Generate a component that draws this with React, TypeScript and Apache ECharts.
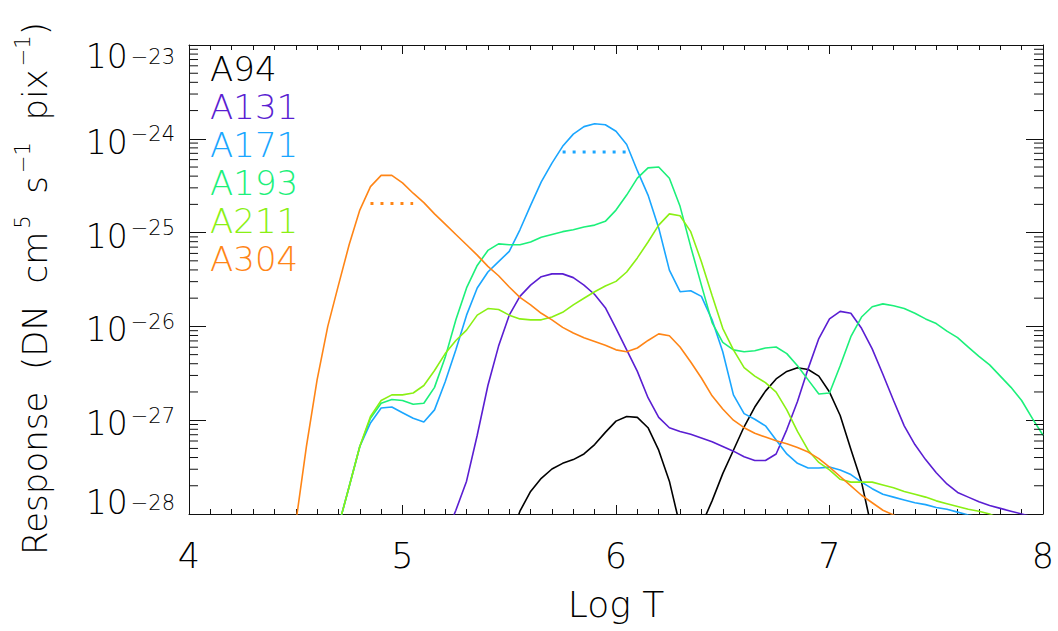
import React, { useEffect, useRef } from "react";
import * as echarts from "echarts";

// Log T grid (x values)
const LOG_T = [
  4.50, 4.55, 4.60, 4.65, 4.70, 4.75, 4.80, 4.85, 4.90, 4.95,
  5.00, 5.05, 5.10, 5.15, 5.20, 5.25, 5.30, 5.35, 5.40, 5.45,
  5.50, 5.55, 5.60, 5.65, 5.70, 5.75, 5.80, 5.85, 5.90, 5.95,
  6.00, 6.05, 6.10, 6.15, 6.20, 6.25, 6.30, 6.35, 6.40, 6.45,
  6.50, 6.55, 6.60, 6.65, 6.70, 6.75, 6.80, 6.85, 6.90, 6.95,
  7.00, 7.05, 7.10, 7.15, 7.20, 7.25, 7.30, 7.35, 7.40, 7.45,
  7.50, 7.55, 7.60, 7.65, 7.70, 7.75, 7.80, 7.85, 7.90, 7.95,
  8.00,
];

// log10 of response (DN cm^5 s^-1 pix^-1), aligned with LOG_T
const A94 = [
  null, null, null, null, null, null, null, null, null, null,
  null, null, null, null, null, null, null, null, null, null,
  -28.30, -27.97, -27.76, -27.62, -27.52, -27.46, -27.42, -27.36, -27.26, -27.13,
  -27.01, -26.96, -26.97, -27.08, -27.32, -27.65, -28.13, -28.60, -28.12, -27.86,
  -27.57, -27.32, -27.07, -26.86, -26.69, -26.56, -26.48, -26.44, -26.46, -26.53,
  -26.70, -26.95, -27.31, -27.66, -28.18, null, null, null, null, null,
  null, null, null, null, null, null, null, null, null, null,
  null,
];
const A131 = [
  null, null, null, null, null, null, null, null, null, null,
  null, null, null, null, -28.24, -27.96, -27.65, -27.16, -26.63, -26.21,
  -25.88, -25.68, -25.56, -25.47, -25.44, -25.44, -25.48, -25.56, -25.66, -25.80,
  -26.02, -26.25, -26.48, -26.76, -26.97, -27.08, -27.12, -27.15, -27.19, -27.23,
  -27.28, -27.33, -27.39, -27.43, -27.43, -27.36, -27.10, -26.80, -26.45, -26.13,
  -25.92, -25.84, -25.86, -26.02, -26.24, -26.51, -26.79, -27.06, -27.26, -27.42,
  -27.56, -27.68, -27.77, -27.82, -27.87, -27.91, -27.94, -27.97, -28.00, -28.03,
  null,
];
const A171 = [
  null, null, null, null, -28.13, -27.71, -27.28, -27.03, -26.87, -26.86,
  -26.92, -26.98, -27.02, -26.89, -26.59, -26.25, -25.88, -25.59, -25.42, -25.31,
  -25.20, -24.97, -24.71, -24.46, -24.26, -24.08, -23.95, -23.87, -23.84, -23.85,
  -23.92, -24.06, -24.34, -24.60, -24.95, -25.40, -25.63, -25.62, -25.68, -25.93,
  -26.27, -26.73, -26.93, -26.99, -27.06, -27.21, -27.36, -27.46, -27.51, -27.51,
  -27.50, -27.53, -27.58, -27.66, -27.73, -27.79, -27.82, -27.85, -27.88, -27.90,
  -27.93, -27.95, -27.98, -28.01, -28.03, null, null, null, null, null,
  null,
];
const A193 = [
  null, null, null, null, -28.13, -27.71, -27.28, -26.98, -26.82, -26.78,
  -26.79, -26.83, -26.82, -26.65, -26.33, -25.93, -25.59, -25.35, -25.19, -25.12,
  -25.13, -25.13, -25.10, -25.05, -25.02, -24.99, -24.97, -24.94, -24.92, -24.88,
  -24.76, -24.60, -24.42, -24.31, -24.30, -24.42, -24.72, -25.15, -25.56, -25.96,
  -26.17, -26.25, -26.27, -26.26, -26.23, -26.22, -26.29, -26.42, -26.57, -26.72,
  -26.71, -26.42, -26.11, -25.90, -25.79, -25.76, -25.78, -25.81, -25.86, -25.92,
  -25.97, -26.05, -26.12, -26.22, -26.32, -26.41, -26.53, -26.65, -26.79, -26.98,
  -27.16,
];
const A211 = [
  null, null, null, null, -28.13, -27.71, -27.28, -26.96, -26.79, -26.73,
  -26.73, -26.71, -26.63, -26.47, -26.29, -26.15, -26.04, -25.88, -25.81, -25.82,
  -25.88, -25.92, -25.93, -25.93, -25.90, -25.85, -25.77, -25.70, -25.63, -25.57,
  -25.52, -25.42, -25.27, -25.10, -24.92, -24.80, -24.82, -24.99, -25.31, -25.67,
  -26.02, -26.25, -26.44, -26.53, -26.60, -26.70, -26.89, -27.12, -27.32, -27.45,
  -27.53, -27.63, -27.66, -27.66, -27.66, -27.69, -27.72, -27.76, -27.79, -27.82,
  -27.86, -27.89, -27.92, -27.95, -27.97, -28.00, -28.05, null, null, null,
  null,
];
const A304 = [
  -28.10, -27.28, -26.57, -26.00, -25.56, -25.13, -24.76, -24.51, -24.39, -24.39,
  -24.47, -24.58, -24.68, -24.80, -24.91, -25.02, -25.13, -25.24, -25.36, -25.46,
  -25.58, -25.69, -25.77, -25.86, -25.93, -26.01, -26.07, -26.12, -26.16, -26.20,
  -26.25, -26.27, -26.23, -26.15, -26.08, -26.10, -26.22, -26.38, -26.55, -26.74,
  -26.88, -27.00, -27.08, -27.14, -27.18, -27.22, -27.25, -27.29, -27.34, -27.41,
  -27.50, -27.60, -27.70, -27.80, -27.88, -27.96, -28.01, -28.08, null, null,
  null, null, null, null, null, null, null, null, null, null,
  null,
];

// half-maximum markers (dotted)
const HALF_LOGT_304 = [4.85, 5.05];
const HALF_LEVEL_304 = -24.69;
const HALF_LOGT_171 = [5.75, 6.05];
const HALF_LEVEL_171 = -24.14;

const CHANNELS = ["A94", "A131", "A171", "A193", "A211", "A304"];
const VALUES = [A94, A131, A171, A193, A211, A304];
const COLORS = ["#000000", "#5a1ed2", "#1aa6ff", "#1cf07a", "#8af014", "#ff8516"];

const X_TICKS = [4, 5, 6, 7, 8];
const Y_DECADES = [-28, -27, -26, -25, -24, -23];
const MINOR_MULTIPLIERS = [2, 3, 4, 5, 6, 7, 8, 9];

const FONT = '"DejaVu Sans", Roboto, sans-serif';
const FW = 200;
const AXIS_COLOR = "#111";

const GRID = { left: 189, right: 15, top: 45, bottom: 117 };
const CHART_W = 1058;
const CHART_H = 631;
const MINOR_TICK_PX = 9;

export default function App() {
  const ref = useRef<HTMLDivElement>(null);

  useEffect(() => {
    if (!ref.current) return;
    const chart = echarts.init(ref.current, null, { renderer: "svg" });

    const minorY: number[] = [];
    for (let d = 0; d < Y_DECADES.length - 1; d++) {
      for (const k of MINOR_MULTIPLIERS) minorY.push(Y_DECADES[d] + Math.log10(k));
    }

    const yMin = Y_DECADES[0];
    const yMax = Y_DECADES[Y_DECADES.length - 1];
    const xMin = X_TICKS[0];
    const xMax = X_TICKS[X_TICKS.length - 1];
    // minor tick length expressed in x-axis units
    const gridW = CHART_W - GRID.left - GRID.right;
    const tickDx = ((xMax - xMin) * MINOR_TICK_PX) / gridW;

    const labelRich: any = {};
    const mk = (key: string, pad: number[]) => {
      labelRich["b" + key] = {
        fontSize: 33, lineHeight: 44, fontFamily: FONT, fontWeight: FW, color: "#000",
        padding: pad,
      };
      labelRich["s" + key] = {
        fontSize: 21, lineHeight: 21, fontFamily: FONT, fontWeight: FW, color: "#000",
        verticalAlign: "top", padding: [pad[0], 0, pad[2], 3],
      };
    };
    mk("N", [7, 0, 0, 0]);
    mk("T", [23, 0, 0, 0]);
    mk("B", [0, 0, 24, 0]);

    const yLine = { show: true, onZero: false, lineStyle: { color: AXIS_COLOR, width: 1 } };
    const xBase = {
      type: "value", min: xMin, max: xMax, interval: 1,
      splitLine: { show: false },
      axisLine: { show: true, onZero: false, lineStyle: { color: AXIS_COLOR, width: 1 } },
      axisTick: { show: true, inside: true, length: 9, lineStyle: { color: AXIS_COLOR } },
      minorTick: { show: true, splitNumber: 10, length: 5, lineStyle: { color: AXIS_COLOR } },
    };

    const series: any[] = CHANNELS.map((name, idx) => ({
      name,
      type: "line",
      xAxisIndex: 0,
      yAxisIndex: 0,
      showSymbol: false,
      symbol: "none",
      clip: true,
      color: COLORS[idx],
      lineStyle: { color: COLORS[idx], width: 1.6 },
      data: LOG_T.map((t, i) => [t, VALUES[idx][i]]).filter((p) => p[1] !== null),
      z: 2 + idx,
    }));
    series.push({
      name: "A304 half max",
      type: "line",
      showSymbol: false,
      symbol: "none",
      lineStyle: { color: COLORS[5], width: 3, type: [3, 7] },
      data: HALF_LOGT_304.map((t) => [t, HALF_LEVEL_304]),
      z: 10,
    });
    series.push({
      name: "A171 half max",
      type: "line",
      showSymbol: false,
      symbol: "none",
      lineStyle: { color: COLORS[2], width: 3, type: [3, 7] },
      data: HALF_LOGT_171.map((t) => [t, HALF_LEVEL_171]),
      z: 10,
    });

    // minor (logarithmic) ticks on the left and right y axes, as broken line segments
    const leftTicks: any[] = [];
    const rightTicks: any[] = [];
    minorY.forEach((v) => {
      leftTicks.push([xMin, v], [xMin + tickDx, v], [xMin + tickDx, null]);
      rightTicks.push([xMax - tickDx, v], [xMax, v], [xMax, null]);
    });
    [leftTicks, rightTicks].forEach((d, i) => {
      series.push({
        name: i === 0 ? "minor ticks left" : "minor ticks right",
        type: "line",
        silent: true,
        showSymbol: false,
        symbol: "none",
        connectNulls: false,
        clip: false,
        lineStyle: { color: AXIS_COLOR, width: 1 },
        data: d,
        z: 20,
      });
    });

    const option: any = {
      animation: false,
      backgroundColor: "#fff",
      grid: { ...GRID, containLabel: false },
      legend: {
        orient: "vertical",
        left: 205,
        top: 50,
        padding: 0,
        itemGap: 0,
        itemWidth: 0,
        itemHeight: 38,
        icon: "none",
        selectedMode: false,
        textStyle: { fontSize: 34, fontFamily: FONT, fontWeight: FW, lineHeight: 38 },
        data: CHANNELS.map((name, idx) => ({ name, textStyle: { color: COLORS[idx] } })),
      },
      xAxis: [
        {
          ...xBase,
          position: "bottom",
          name: "Log T",
          nameLocation: "middle",
          nameGap: 72,
          nameTextStyle: { fontSize: 36, fontFamily: FONT, fontWeight: FW, color: "#000" },
          axisLabel: { show: true, margin: 24, fontSize: 35, fontFamily: FONT, fontWeight: FW, color: "#000" },
        },
        { ...xBase, position: "top", axisLabel: { show: false } },
      ],
      yAxis: [
        {
          type: "value", min: yMin, max: yMax, interval: 1, position: "left",
          splitLine: { show: false }, axisLine: yLine,
          axisTick: { show: true, inside: true, length: 17, lineStyle: { color: AXIS_COLOR } },
          axisLabel: {
            show: true, margin: 14,
            formatter: (v: number) => {
              const e = Math.round(v);
              const key = e === yMax ? "T" : e === yMin ? "B" : "N";
              return `{b${key}|10}{s${key}|\u2212${Math.abs(e)}}`;
            },
            rich: labelRich,
          },
          name: "{b|Response  (DN  cm}{s|5}{b|  s}{s|\u22121}{b|  pix}{s|\u22121}{b|)}",
          nameLocation: "middle",
          nameRotate: 90,
          nameGap: 131,
          nameTextStyle: {
            padding: [0, 18, 0, 0],
            rich: {
              b: { fontSize: 34, lineHeight: 46, fontFamily: FONT, fontWeight: FW, color: "#000" },
              s: { fontSize: 21, lineHeight: 21, fontFamily: FONT, fontWeight: FW, color: "#000", verticalAlign: "top", padding: [0, 0, 0, 3] },
            },
          },
        },
        {
          type: "value", min: yMin, max: yMax, interval: 1, position: "right",
          splitLine: { show: false }, axisLine: yLine,
          axisTick: { show: true, inside: true, length: 17, lineStyle: { color: AXIS_COLOR } },
          axisLabel: { show: false },
        },
      ],
      series,
    };

    chart.setOption(option);
    return () => chart.dispose();
  }, []);

  return (
    <div
      ref={ref}
      style={{ position: "absolute", left: 0, top: 0, width: CHART_W, height: CHART_H, background: "#fff" }}
    />
  );
}
